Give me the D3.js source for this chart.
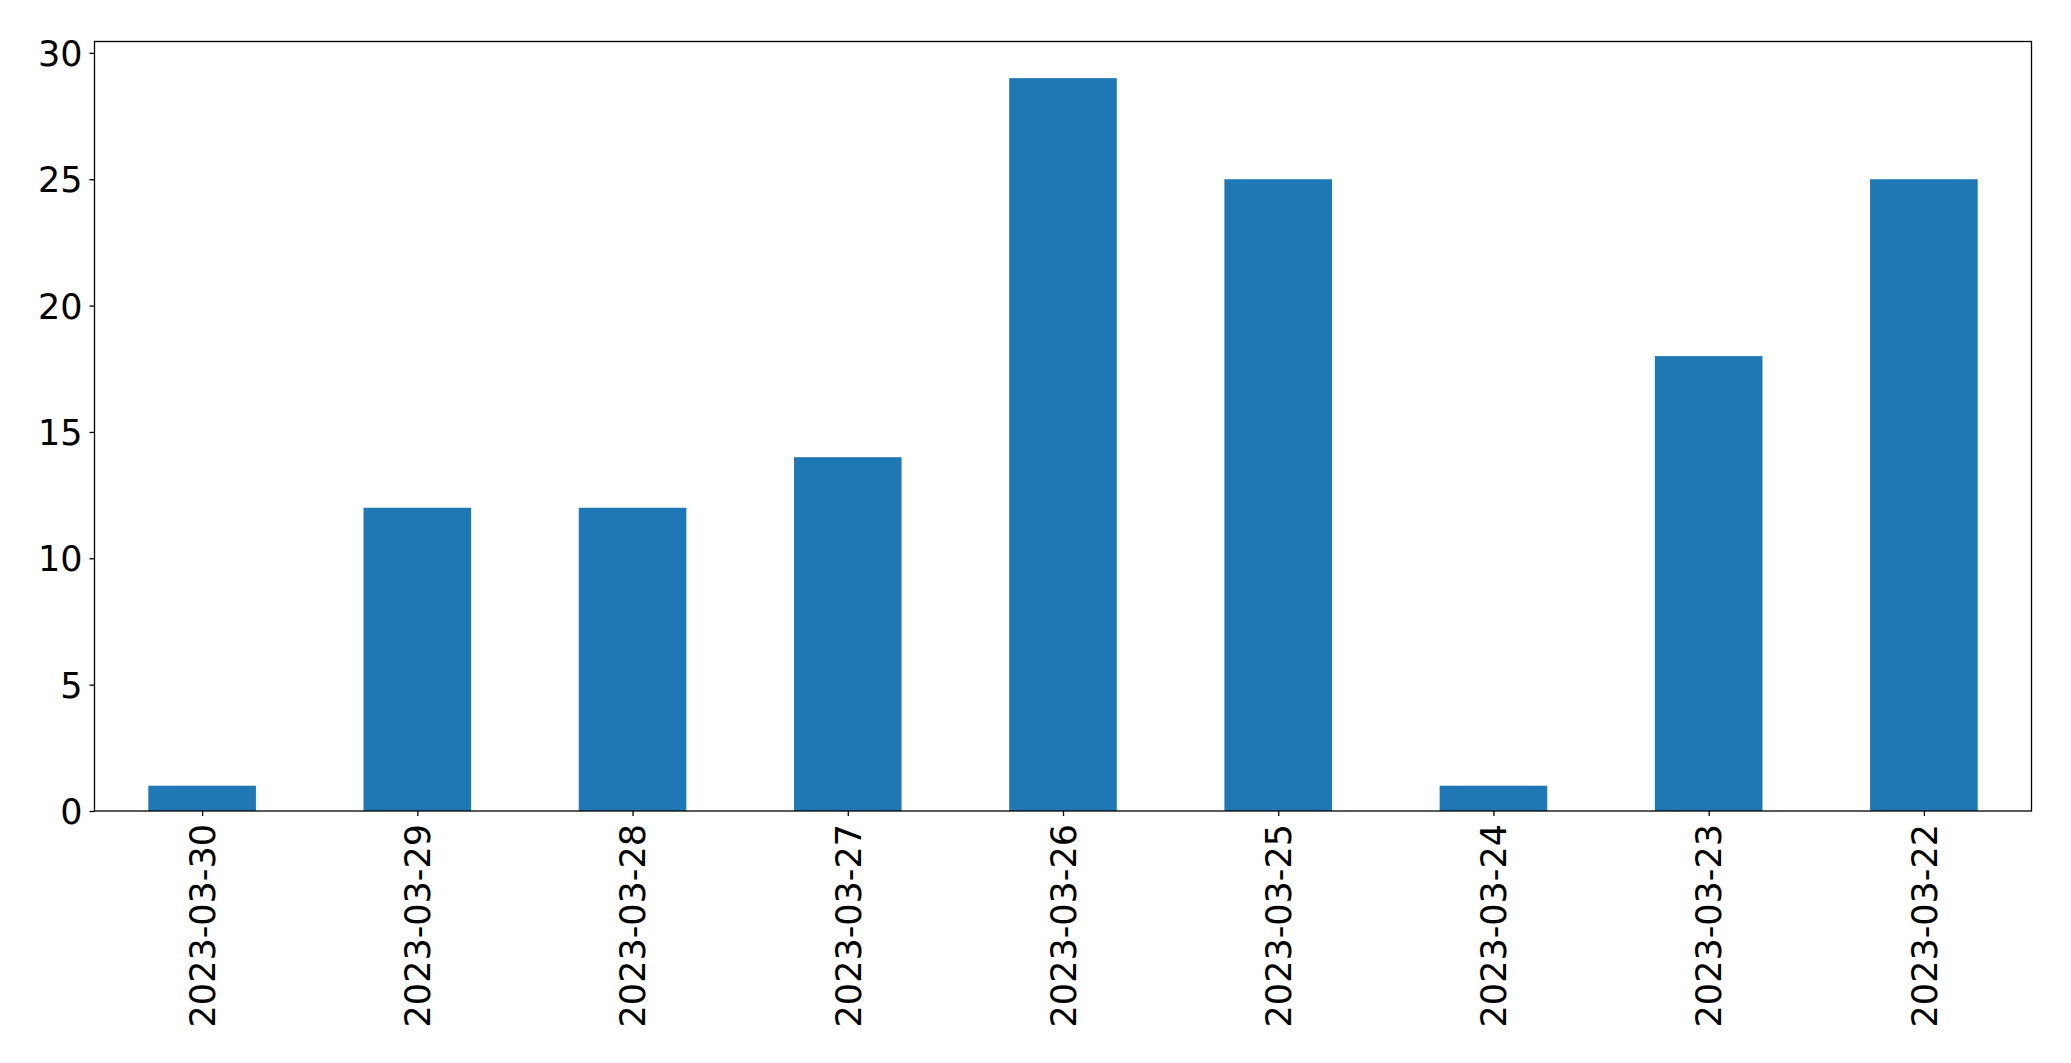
<!DOCTYPE html>
<html><head><meta charset="utf-8">
<script src="https://cdn.jsdelivr.net/npm/d3@7"></script>
<style>body{margin:0;background:#fff}svg{display:block}text{font-family:"DejaVu Sans",sans-serif}</style>
</head><body>
<script>
const categories = ["2023-03-30","2023-03-29","2023-03-28","2023-03-27","2023-03-26","2023-03-25","2023-03-24","2023-03-23","2023-03-22"];
const values = [1,12,12,14,29,25,1,18,25];
const yTicks = [0,5,10,15,20,25,30];

const W=2071,H=1063;
const m={left:94.5,top:41.5,right:2031.5,bottom:811};
const svg=d3.select("body").append("svg").attr("width",W).attr("height",H);
const x=d3.scaleLinear().domain([-0.5,categories.length-0.5]).range([m.left,m.right]);
const y=d3.scaleLinear().domain([0,d3.max(values)*1.05]).range([m.bottom,m.top]);

svg.append("g").selectAll("rect").data(values).join("rect")
  .attr("x",(d,i)=>x(i-0.25)).attr("width",(d,i)=>x(i+0.25)-x(i-0.25))
  .attr("y",d=>y(d)).attr("height",d=>y(0)-y(d)).attr("fill","#1f77b4");

const fs=35;
const ya=svg.append("g").attr("transform",`translate(${m.left},0)`)
  .call(d3.axisLeft(y).tickValues(yTicks).tickSize(5).tickPadding(7).tickFormat(d3.format("d")));
ya.select(".domain").remove();
ya.selectAll("line").attr("stroke","#000").attr("stroke-width",1.3);
ya.selectAll("text").attr("font-size",fs).attr("fill","#000").attr("dy","0.36em");

const xa=svg.append("g").attr("transform",`translate(0,${m.bottom})`)
  .call(d3.axisBottom(x).tickValues(d3.range(categories.length)).tickSize(5).tickPadding(7).tickFormat(i=>categories[i]));
xa.select(".domain").remove();
xa.selectAll("line").attr("stroke","#000").attr("stroke-width",1.3);
xa.selectAll("text").attr("font-size",fs).attr("fill","#000")
  .attr("transform","rotate(-90)").attr("text-anchor","end")
  .attr("x",-13).attr("y",0).attr("dy","0.35em");

svg.append("rect").attr("x",m.left).attr("y",m.top).attr("width",m.right-m.left).attr("height",m.bottom-m.top)
  .attr("fill","none").attr("stroke","#000").attr("stroke-width",1.3);
</script>
</body></html>
